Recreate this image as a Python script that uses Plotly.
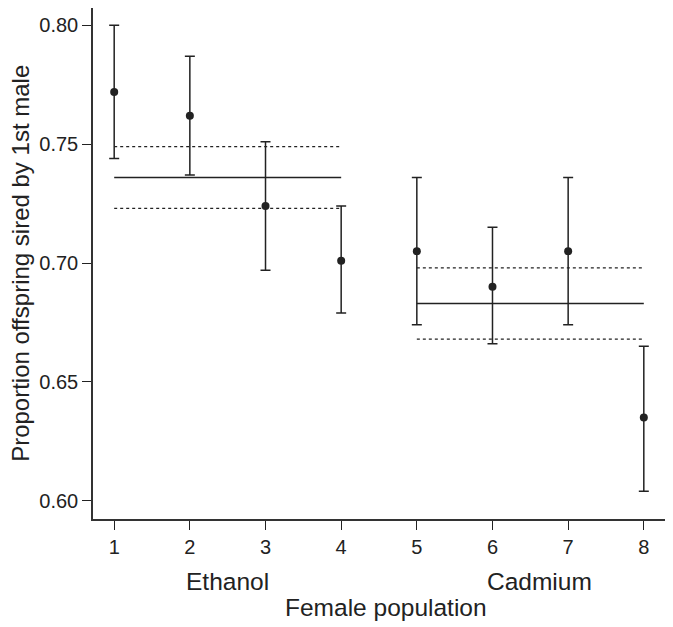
import plotly.graph_objects as go

# 개체군별 값 (1-4: Ethanol, 5-8: Cadmium)
population = [1, 2, 3, 4, 5, 6, 7, 8]
proportion = [0.772, 0.762, 0.724, 0.701, 0.705, 0.690, 0.705, 0.635]
ci_upper = [0.800, 0.787, 0.751, 0.724, 0.736, 0.715, 0.736, 0.665]
ci_lower = [0.744, 0.737, 0.697, 0.679, 0.674, 0.666, 0.674, 0.604]

# 처리군별 평균과 신뢰구간
treatments = ["Ethanol", "Cadmium"]
group_start = [1, 5]
group_end = [4, 8]
group_mean = [0.736, 0.683]
group_upper = [0.749, 0.698]
group_lower = [0.723, 0.668]

y_ticks = [0.60, 0.65, 0.70, 0.75, 0.80]

ink = "#222222"
font_family = "Liberation Sans, Arial, sans-serif"

# 처리군 이름 위치 (x 데이터 좌표)
label_x = [2.5, 6.62]

fig = go.Figure()

# 처리군 평균선 (실선) 과 신뢰구간 (점선)
for s, e, m, u, l in zip(group_start, group_end, group_mean, group_upper, group_lower):
    fig.add_trace(go.Scatter(x=[s, e], y=[m, m], mode="lines",
                             line=dict(color=ink, width=1.5), hoverinfo="skip"))
    for v in (u, l):
        fig.add_trace(go.Scatter(x=[s, e], y=[v, v], mode="lines",
                                 line=dict(color=ink, width=1.3, dash="dot"),
                                 hoverinfo="skip"))

# 점 + 오차막대
fig.add_trace(go.Scatter(
    x=population, y=proportion, mode="markers",
    marker=dict(size=8, color=ink),
    error_y=dict(type="data", symmetric=False,
                 array=[u - p for u, p in zip(ci_upper, proportion)],
                 arrayminus=[p - l for p, l in zip(proportion, ci_lower)],
                 color=ink, thickness=1.5, width=5),
))

# 처리군 이름
for name, lx in zip(treatments, label_x):
    fig.add_annotation(x=lx, y=-0.122, xref="x", yref="paper",
                       text=name, showarrow=False, xanchor="center", yanchor="middle",
                       font=dict(size=24.5, color=ink, family=font_family))

fig.add_annotation(x=0.512, y=-0.1725, xref="paper", yref="paper",
                   text="Female population", showarrow=False,
                   xanchor="center", yanchor="middle",
                   font=dict(size=24.5, color=ink, family=font_family))

fig.add_annotation(x=-0.127, y=0.5, xref="paper", yref="paper",
                   text="Proportion offspring sired by 1st male", showarrow=False,
                   textangle=-90, xanchor="center", yanchor="middle",
                   font=dict(size=24, color=ink, family=font_family))

axis_style = dict(ticks="outside", ticklen=9, tickcolor=ink, tickwidth=1.2,
                  showgrid=False, zeroline=False, automargin=False,
                  showline=True, mirror=True, linecolor="#333333", linewidth=1.5,
                  tickfont=dict(size=20, color=ink, family=font_family))
fig.update_xaxes(range=[0.72, 8.28], tickvals=population, **axis_style)
fig.update_yaxes(range=[0.5923, 0.8073], tickvals=y_ticks,
                 ticktext=[f"{v:.2f}" for v in y_ticks], **axis_style)

# 페이지 body 여백(8px)을 감안한 여백
fig.update_layout(
    template="none",
    width=673, height=627,
    margin=dict(l=85, r=16, t=0, b=116, pad=0),
    plot_bgcolor="white", paper_bgcolor="white",
    font=dict(family=font_family, color=ink),
    showlegend=False,
)

fig.write_html("out.html")
